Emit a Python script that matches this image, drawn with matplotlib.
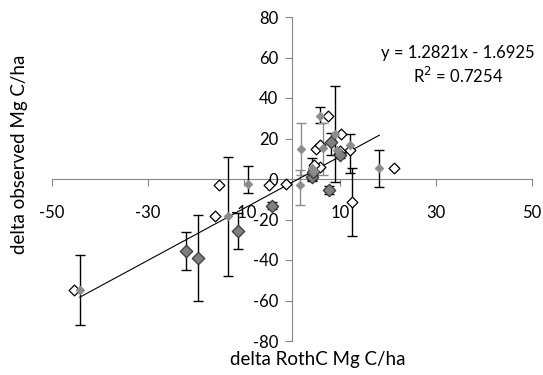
import numpy as np
import matplotlib
matplotlib.use("Agg")
import matplotlib.pyplot as plt

plt.rcParams['font.family'] = ['Lato', 'DejaVu Sans']
plt.rcParams['axes.unicode_minus'] = False

# light grey filled series (the one the trendline is fitted to)
grey_x = [-44.2, -13.4, -9.2, 1.7, 1.8, 4.1, 5.8, 6.5, 9.0, 12.1, 18.2, 4.6, 9.3]
grey_y = [-54.8, -18.3, -2.5, -3.0, 14.8, 5.3, 31.1, 15.1, 22.0, 16.8, 5.6, 4.0, 14.5]
grey_hi = [-37.5, 11.0, 6.5, 4.4, 27.5, 10.4, 35.7, 27.5, 45.9, 22.0, 14.3, 4.0, 14.5]
grey_lo = [-72.1, -47.9, -6.8, -12.8, 2.0, -0.5, 27.5, 2.0, -1.3, 2.8, -3.8, 4.0, 14.5]
grey_ecol = ['k', 'k', 'k', '#8c8c8c', '#8c8c8c', 'k', 'k', '#8c8c8c', 'k', 'k', 'k', 'k', 'k']

# open diamonds
open_x = [-45.5, -16.0, -15.2, -4.7, -1.25, 5.8, 5.1, 5.8, 7.6, 10.2, 10.0, 12.1, 21.3, 12.6, 4.6, 9.8]
open_y = [-54.8, -18.3, -3.0, -3.0, -2.5, 5.8, 14.8, 16.8, 31.1, 22.0, 14.0, 14.3, 5.6, -11.5, 6.8, 12.5]

# dark grey diamonds
dark_x = [-22.1, -19.5, -11.2, -4.1, 4.1, 7.8, 8.1, 10.0, 4.3]
dark_y = [-35.4, -38.9, -25.7, -13.3, 0.8, -5.4, 18.1, 11.9, 3.5]
dark_hi = [-26.3, -17.8, -17.0, -11.5, 2.5, -3.5, 22.6, 13.5, 5.0]
dark_lo = [-44.9, -60.2, -34.7, -15.0, -1.0, -7.2, 11.9, 10.5, 2.0]

# open diamond error bar (only one visible)
open_err_x = 12.6
open_err = (-28.1, 5.6)

slope, intercept = 1.2821, -1.6925
xticks = [-50, -30, -10, 10, 30, 50]
yticks = [-80, -60, -40, -20, 0, 20, 40, 60, 80]

fig = plt.figure(figsize=(5.43, 3.75), dpi=100)
ax = fig.add_axes([52/543, 1-341/375, 480/543, 324/375])

axcol = '#868686'
for s in ['top', 'right']:
    ax.spines[s].set_visible(False)
ax.spines['left'].set_position(('data', 0))
ax.spines['bottom'].set_position(('data', 0))
ax.spines['left'].set_color(axcol)
ax.spines['bottom'].set_color(axcol)
ax.spines['left'].set_zorder(1)
ax.spines['bottom'].set_zorder(1)

ax.set_xlim(-50, 50)
ax.set_ylim(-80, 80)
ax.set_xticks(xticks)
ax.set_yticks(yticks)
ax.tick_params(axis='x', direction='out', length=5, color=axcol, labelsize=12, pad=14)
ax.tick_params(axis='y', direction='out', length=5, color=axcol, labelsize=12, pad=5)

# error bars
for x, y, lo, hi, c in zip(grey_x, grey_y, grey_lo, grey_hi, grey_ecol):
    if hi - lo > 0.5:
        ax.errorbar(x, y, yerr=[[y - lo], [hi - y]], fmt='none', ecolor=c,
                    elinewidth=1, capsize=3.5, capthick=1, zorder=2)
for x, y, lo, hi in zip(dark_x, dark_y, dark_lo, dark_hi):
    ax.errorbar(x, y, yerr=[[y - lo], [hi - y]], fmt='none', ecolor='k',
                elinewidth=1, capsize=3.5, capthick=1, zorder=2)
ax.errorbar(open_err_x, open_y[13], yerr=[[open_y[13] - open_err[0]], [open_err[1] - open_y[13]]],
            fmt='none', ecolor='k', elinewidth=1, capsize=3.5, capthick=1, zorder=2)

# trendline
tx = np.array([min(grey_x), max(grey_x)])
ax.plot(tx, slope * tx + intercept, color='k', lw=0.8, zorder=3)

ax.scatter(open_x, open_y, marker='D', s=30, facecolor='white', edgecolor='k', linewidth=0.9, zorder=4)
ax.scatter(dark_x, dark_y, marker='D', s=40, facecolor='#7f7f7f', edgecolor='#3a3a3a', linewidth=0.9, zorder=4)
ax.scatter(grey_x, grey_y, marker='D', s=20, facecolor='#8c8c8c', edgecolor='#8c8c8c', linewidth=0.5, zorder=5)

ax.text(0.846, 0.874, 'y = 1.2821x - 1.6925', transform=ax.transAxes, ha='center', fontsize=12)
ax.text(0.846, 0.795, 'R$^2$ = 0.7254', transform=ax.transAxes, ha='center', fontsize=12)

fig.text(318/543, 1-359/375, 'delta RothC Mg C/ha', ha='center', va='center', fontsize=13.5)
fig.text(20/543, 1-154/375, 'delta observed Mg C/ha', ha='center', va='center', rotation=90, fontsize=13.5)

fig.savefig('out.png', dpi=100)
